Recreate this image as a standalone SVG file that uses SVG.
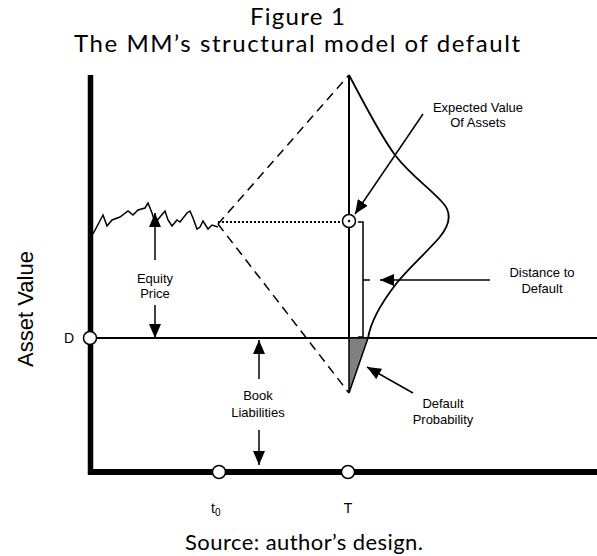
<svg xmlns="http://www.w3.org/2000/svg" width="597" height="556" viewBox="0 0 597 556">
<style>
.lbl{font-family:"Liberation Sans",Arial,sans-serif;font-size:13px;fill:#000;text-anchor:middle}
.ttl{font-family:Lato,"Open Sans",sans-serif;font-size:24px;font-weight:400;fill:#000}
.ln{stroke:#000;fill:none}
.arr{stroke:#000;stroke-width:1.5;fill:none;marker-end:url(#ah)}
.dot{fill:#fff;stroke:#000;stroke-width:1.5}
</style>
<defs>
<marker id="ah" viewBox="0 0 14 12" refX="14" refY="6" markerWidth="14" markerHeight="12" markerUnits="userSpaceOnUse" orient="auto">
<path d="M0,0 L14,6 L0,12 z" fill="#000"/>
</marker>
</defs>
<rect width="597" height="556" fill="#fff"/>
<g id="title">
<text class="ttl" x="250" y="25" textLength="95" lengthAdjust="spacing">Figure 1</text>
<text class="ttl" x="74" y="52" textLength="446" lengthAdjust="spacing">The MM’s structural model of default</text>
</g>
<g id="axes">
<line class="ln" x1="90.5" y1="75" x2="90.5" y2="475" stroke-width="5.5"/>
<line class="ln" x1="88" y1="472" x2="597" y2="472" stroke-width="6"/>
<line class="ln" x1="90" y1="338" x2="597" y2="338" stroke-width="2"/>
<text font-family="Liberation Sans,Arial,sans-serif" font-size="22" transform="translate(33,309) rotate(-90)" text-anchor="middle">Asset Value</text>
</g>
<g id="connectors">
<line class="ln" x1="349" y1="75" x2="349" y2="338" stroke-width="2"/>
<line class="ln" x1="218" y1="224" x2="349" y2="75" stroke-width="1.5" stroke-dasharray="9,6"/>
<line class="ln" x1="218" y1="224" x2="349" y2="393" stroke-width="1.5" stroke-dasharray="9,6"/>
<line class="ln" x1="218" y1="222" x2="343" y2="222" stroke-width="2" stroke-dasharray="2,2"/>
<path class="ln" stroke-width="1.5" d="M93,234 L103,215 L107,226 L112,220 L120,217 L128,211 L133,215 L138,210 L145,208 L148,203 L152,213 L155,223 L160,217 L165,211 L168,220 L172,226 L177,220 L180,222 L187,213 L190,211 L193,218 L197,229 L200,227 L203,221 L208,229 L212,225 L218,227"/>
<path class="ln" stroke-width="1.8" d="M349,75 C365,105 380,135 395,155 C410,175 430,188 443,203 C452,213 450,225 439,238 C422,257 407,270 396,284 C382,302 371,320 368,338"/>
<path d="M349,338 L368,338 L349,393 Z" fill="#808080" stroke="#000" stroke-width="1.5"/>
<path class="ln" stroke-width="1.5" d="M358,222 L363,222 L363,337 L358,337 M363,280 L370,280"/>
<line class="arr" x1="423" y1="114" x2="355" y2="214"/>
<line class="arr" x1="490" y1="280" x2="380" y2="280"/>
<line class="arr" x1="413" y1="393" x2="367" y2="367"/>
<line class="arr" x1="155" y1="260" x2="155" y2="213"/>
<line class="arr" x1="155" y1="305" x2="155" y2="338"/>
<line class="arr" x1="259" y1="379" x2="259" y2="340"/>
<line class="arr" x1="259" y1="430" x2="259" y2="465"/>
</g>
<g id="node-expected">
<circle class="dot" cx="349" cy="221" r="6.5"/>
<circle cx="349" cy="221" r="1.2" fill="#000"/>
<text class="lbl" x="478" y="112">Expected Value</text>
<text class="lbl" x="478" y="127">Of Assets</text>
</g>
<g id="node-distance">
<text class="lbl" x="542" y="277">Distance to</text>
<text class="lbl" x="542" y="293">Default</text>
</g>
<g id="node-default">
<text class="lbl" x="443" y="408">Default</text>
<text class="lbl" x="443" y="424">Probability</text>
</g>
<g id="node-equity">
<text class="lbl" x="155" y="283">Equity</text>
<text class="lbl" x="155" y="298">Price</text>
</g>
<g id="node-book">
<text class="lbl" x="258" y="400">Book</text>
<text class="lbl" x="258" y="417">Liabilities</text>
</g>
<g id="node-D">
<circle class="dot" cx="90" cy="338" r="6.5"/>
<text font-family="Liberation Sans,Arial,sans-serif" font-size="14" x="64" y="343">D</text>
</g>
<g id="node-t0">
<circle class="dot" cx="219" cy="472" r="6.5"/>
<text font-family="Liberation Sans,Arial,sans-serif" font-size="14" x="211" y="513">t<tspan font-size="10" dy="3">0</tspan></text>
</g>
<g id="node-T">
<circle class="dot" cx="348" cy="472" r="6.5"/>
<text font-family="Liberation Sans,Arial,sans-serif" font-size="14" x="348" y="513" text-anchor="middle">T</text>
</g>
<g id="source">
<text class="ttl" x="185" y="550" style="font-size:22px" textLength="238" lengthAdjust="spacing">Source: author’s design.</text>
</g>
</svg>
